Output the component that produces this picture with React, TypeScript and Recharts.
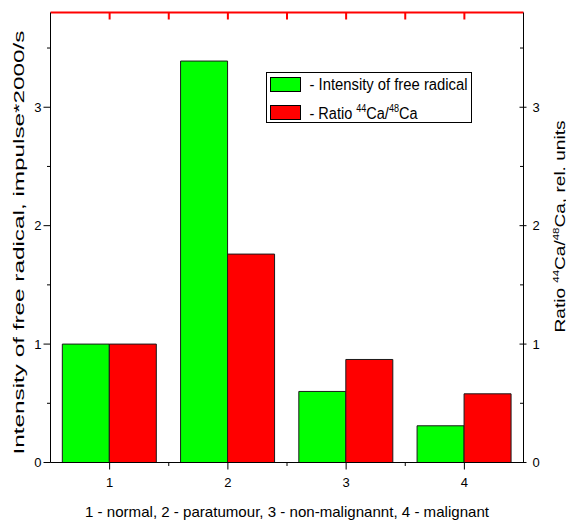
import { BarChart, Bar, XAxis, YAxis, Label } from 'recharts'

// значения
const categories = ['1', '2', '3', '4']
const radical = [1.0, 3.39, 0.6, 0.31]
const ratio = [1.0, 1.76, 0.87, 0.58]
const yTicks = [0, 0.5, 1, 1.5, 2, 2.5, 3, 3.5]
const yMax = 3.8

const data = categories.map((c, i) => ({ cat: c, radical: radical[i], ratio: ratio[i] }))

const FONT = '"Liberation Sans", Arial, sans-serif'
const PLOT_LEFT = 50.5
const PLOT_RIGHT = 523.5
// половина шага между категориями — для мелких рисок
const HALF_BAND = (PLOT_RIGHT - PLOT_LEFT) / categories.length / 2

const BottomTick = (props: any) => {
  const { x, y, payload, index } = props
  const last = index === categories.length - 1
  return (
    <g>
      <line x1={x} x2={x} y1={y} y2={y + 7} stroke="#000" />
      {!last && <line x1={x + HALF_BAND} x2={x + HALF_BAND} y1={y} y2={y + 3.5} stroke="#000" />}
      <text x={x} y={y + 24} textAnchor="middle" fontSize={13} fontFamily={FONT} fill="#000">
        {payload.value}
      </text>
    </g>
  )
}

// верхняя рамка: риски внутрь
const TopTick = (props: any) => {
  const { x, y, index } = props
  const last = index === categories.length - 1
  return (
    <g>
      <line x1={x} x2={x} y1={y} y2={y + 7} stroke="#f00" strokeWidth={2} />
      {!last && <line x1={x + HALF_BAND} x2={x + HALF_BAND} y1={y} y2={y + 7} stroke="#f00" strokeWidth={2} />}
    </g>
  )
}

const LeftTick = (props: any) => {
  const { x, y, payload } = props
  const major = Number.isInteger(payload.value)
  return (
    <g>
      <line x1={x - (major ? 7 : 3.5)} x2={x} y1={y} y2={y} stroke="#000" />
      {major && (
        <text x={x - 9} y={y + 4.5} textAnchor="end" fontSize={13} fontFamily={FONT} fill="#000">
          {payload.value}
        </text>
      )}
    </g>
  )
}

const RightTick = (props: any) => {
  const { x, y, payload } = props
  const major = Number.isInteger(payload.value)
  return (
    <g>
      <line x1={x - (major ? 4 : 3.5)} x2={x + (major ? 3 : 0)} y1={y} y2={y} stroke="#000" />
      {major && (
        <text x={x + 9} y={y + 4.5} textAnchor="start" fontSize={13} fontFamily={FONT} fill="#000">
          {payload.value}
        </text>
      )}
    </g>
  )
}

const BottomTitle = (props: any) => {
  const { viewBox } = props
  const cx = viewBox.x + viewBox.width / 2
  return (
    <text x={cx} y={viewBox.y + 54} textAnchor="middle" fontSize={15} fontFamily={FONT}
      textLength={404} lengthAdjust="spacingAndGlyphs" fill="#000">
      1 - normal, 2 - paratumour, 3 - non-malignannt, 4 - malignant
    </text>
  )
}

const LeftTitle = (props: any) => {
  const { viewBox } = props
  const cx = 24
  const cy = viewBox.y + viewBox.height / 2 + 5
  return (
    <text x={cx} y={cy} transform={`rotate(-90 ${cx} ${cy})`} textAnchor="middle" fontSize={14.5}
      fontFamily={FONT} textLength={424} lengthAdjust="spacingAndGlyphs" fill="#000">
      Intensity of free radical, impulse*2000/s
    </text>
  )
}

const RightTitle = (props: any) => {
  const { viewBox } = props
  const cx = viewBox.x + 41
  const cy = viewBox.y + viewBox.height / 2 - 11
  return (
    <text x={cx} y={cy} transform={`rotate(-90 ${cx} ${cy})`} textAnchor="middle" fontSize={15}
      fontFamily={FONT} textLength={212} lengthAdjust="spacingAndGlyphs" fill="#000">
      <tspan>Ratio </tspan>
      <tspan fontSize={9} dy={-6}>44</tspan>
      <tspan dy={6}>Ca/</tspan>
      <tspan fontSize={9} dy={-6}>48</tspan>
      <tspan dy={6}>Ca, rel. units</tspan>
    </text>
  )
}

// легенда рисуется внутри svg графика (подпись верхней оси)
const LegendBox = (props: any) => {
  const { viewBox } = props
  const lx = viewBox.x + 215.5
  const ly = viewBox.y + viewBox.height + 59.5
  return (
    <g transform={`translate(${lx} ${ly})`}>
      <rect x={0.5} y={0.5} width={205} height={50} fill="#fff" stroke="#000" />
      <rect x={4.5} y={5.5} width={30} height={14} fill="#00ff00" stroke="#000" />
      <rect x={4.5} y={33.5} width={30} height={14} fill="#ff0000" stroke="#000" />
      <text x={43.5} y={17.5} fontSize={16} fontFamily={FONT} textLength={158}
        lengthAdjust="spacingAndGlyphs" fill="#000">
        - Intensity of free radical
      </text>
      <text x={43.5} y={46.5} fontSize={16} fontFamily={FONT} textLength={108}
        lengthAdjust="spacingAndGlyphs" fill="#000">
        <tspan>- Ratio </tspan>
        <tspan fontSize={10} dy={-7}>44</tspan>
        <tspan dy={7}>Ca/</tspan>
        <tspan fontSize={10} dy={-7}>48</tspan>
        <tspan dy={7}>Ca</tspan>
      </text>
    </g>
  )
}

export default function App() {
  return (
    <div style={{ position: 'absolute', left: 0, top: 0, background: '#fff' }}>
      <BarChart
        width={566}
        height={523}
        data={data}
        margin={{ top: 2.5, right: 0, bottom: 0, left: 0 }}
        barCategoryGap="10%"
        barGap={0}
      >
        <XAxis
          xAxisId="bottom"
          dataKey="cat"
          height={60.5}
          interval={0}
          tickSize={0}
          tickMargin={0}
          tick={<BottomTick />}
          axisLine={{ stroke: '#000' }}
          tickLine={false}
        >
          <Label content={<BottomTitle />} />
        </XAxis>
        <XAxis
          xAxisId="top"
          dataKey="cat"
          orientation="top"
          height={10}
          interval={0}
          tickSize={0}
          tickMargin={0}
          tick={<TopTick />}
          axisLine={{ stroke: '#f00', strokeWidth: 2 }}
          tickLine={false}
        >
          <Label content={<LegendBox />} />
        </XAxis>
        <YAxis
          yAxisId="left"
          domain={[0, yMax]}
          ticks={yTicks}
          interval={0}
          width={50.5}
          tickSize={0}
          tickMargin={0}
          tick={<LeftTick />}
          axisLine={{ stroke: '#000' }}
          tickLine={false}
          allowDataOverflow
        >
          <Label content={<LeftTitle />} />
        </YAxis>
        <YAxis
          yAxisId="right"
          orientation="right"
          domain={[0, yMax]}
          ticks={yTicks}
          interval={0}
          width={42.5}
          tickSize={0}
          tickMargin={0}
          tick={<RightTick />}
          axisLine={{ stroke: '#000' }}
          tickLine={false}
          allowDataOverflow
        >
          <Label content={<RightTitle />} />
        </YAxis>
        <Bar xAxisId="bottom" yAxisId="left" dataKey="radical" fill="#00ff00" stroke="#1a1a1a" isAnimationActive={false} />
        <Bar xAxisId="bottom" yAxisId="right" dataKey="ratio" fill="#ff0000" stroke="#1a1a1a" isAnimationActive={false} />
      </BarChart>
    </div>
  )
}
